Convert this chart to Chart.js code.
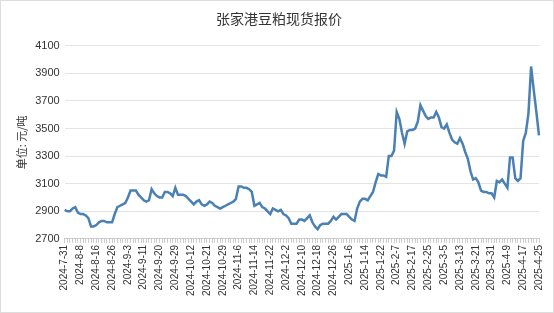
<!DOCTYPE html>
<html>
<head>
<meta charset="utf-8">
<script src="https://cdn.jsdelivr.net/npm/chart.js@4/dist/chart.umd.min.js"></script>
<style>
  html, body { margin: 0; padding: 0; background: #fff; }
  #wrap { width: 552px; height: 311px; border: 1px solid #ddd; }
</style>
</head>
<body>
<div id="wrap"><canvas id="graf1" width="552" height="311"></canvas></div>
<script>
// tick dates, one every 6 working days
var dateLabels = ['2024-7-31','2024-8-8','2024-8-16','2024-8-26','2024-9-3','2024-9-11','2024-9-20','2024-9-29',
  '2024-10-12','2024-10-21','2024-10-29','2024-11-6','2024-11-14','2024-11-22','2024-12-2','2024-12-10',
  '2024-12-18','2024-12-26','2025-1-6','2025-1-14','2025-1-22','2025-2-7','2025-2-17','2025-2-25',
  '2025-3-5','2025-3-13','2025-3-21','2025-3-31','2025-4-9','2025-4-17','2025-4-25'];

// daily spot price, yuan/ton
var prices = [
  2910,2900,2900,2920,2930,2890,2880,2880,2870,2850,
  2790,2790,2800,2820,2830,2830,2820,2820,2820,2880,
  2930,2940,2950,2960,3000,3050,3050,3050,3020,3000,
  2980,2970,2980,3060,3030,3010,3000,3000,3040,3040,
  3030,3010,3070,3020,3020,3020,3010,2990,2970,2950,
  2970,2980,2950,2940,2950,2970,2960,2940,2930,2920,
  2930,2940,2950,2960,2970,2990,3080,3080,3070,3070,
  3060,3040,2940,2950,2960,2930,2920,2900,2880,2920,
  2910,2900,2910,2880,2870,2850,2810,2810,2810,2840,
  2840,2830,2850,2870,2820,2790,2770,2800,2810,2810,
  2810,2830,2860,2840,2860,2880,2880,2880,2860,2840,
  2830,2920,2970,2990,2990,2980,3010,3040,3110,3170,
  3160,3160,3150,3300,3300,3340,3620,3570,3470,3390,
  3480,3490,3490,3500,3550,3670,3630,3590,3570,3580,
  3580,3620,3580,3510,3500,3530,3470,3420,3400,3390,
  3430,3390,3330,3280,3190,3130,3140,3110,3050,3040,
  3040,3030,3030,3000,3120,3110,3130,3100,3070,3290,
  3290,3140,3120,3140,3410,3470,3610,3950,3780,3620,
  3450
];

var yTicks = [2700, 2900, 3100, 3300, 3500, 3700, 3900, 4100];

var labels = prices.map(function(p, i) {
  return (i % 6 === 0) ? dateLabels[i / 6] : '';
});

var g1 = document.getElementById('graf1');

var chart = new Chart(g1, {
  type: 'line',
  data: {
    labels: labels,
    datasets: [{
      data: prices,
      borderColor: '#4a80b3',
      borderWidth: 2.5,
      pointRadius: 0,
      tension: 0,
      fill: false
    }]
  },
  options: {
    responsive: false,
    animation: false,
    layout: { padding: { left: 14, right: 10, top: 4, bottom: 14 } },
    plugins: {
      legend: { display: false },
      tooltip: { enabled: false },
      title: {
        display: true,
        text: '张家港豆粕现货报价',
        color: '#333',
        font: { family: 'Noto Sans CJK SC', size: 14, weight: 'normal' },
        padding: { top: 5, bottom: 19 }
      }
    },
    scales: {
      x: {
        offset: false,
        grid: { display: true, drawOnChartArea: false, drawTicks: true, tickLength: 4, color: '#ccc' },
        border: { color: '#ccc' },
        ticks: {
          autoSkip: false,
          maxRotation: 90,
          minRotation: 90,
          padding: 2,
          color: '#333',
          font: { family: 'Liberation Sans', size: 10 }
        }
      },
      y: {
        min: 2700,
        max: 4100,
        afterBuildTicks: function(axis) {
          axis.ticks = yTicks.map(function(v) { return { value: v }; });
        },
        grid: { color: '#e4e4e4', drawTicks: false },
        border: { display: false },
        ticks: {
          padding: 5,
          color: '#333',
          font: { family: 'Liberation Sans', size: 11 },
          callback: function(v) { return String(v); }
        },
        title: {
          display: true,
          text: '单位: 元/吨',
          color: '#333',
          font: { family: 'Noto Sans CJK SC', size: 11 },
          padding: { top: 0, bottom: 2 }
        }
      }
    }
  }
});
</script>
</body>
</html>
